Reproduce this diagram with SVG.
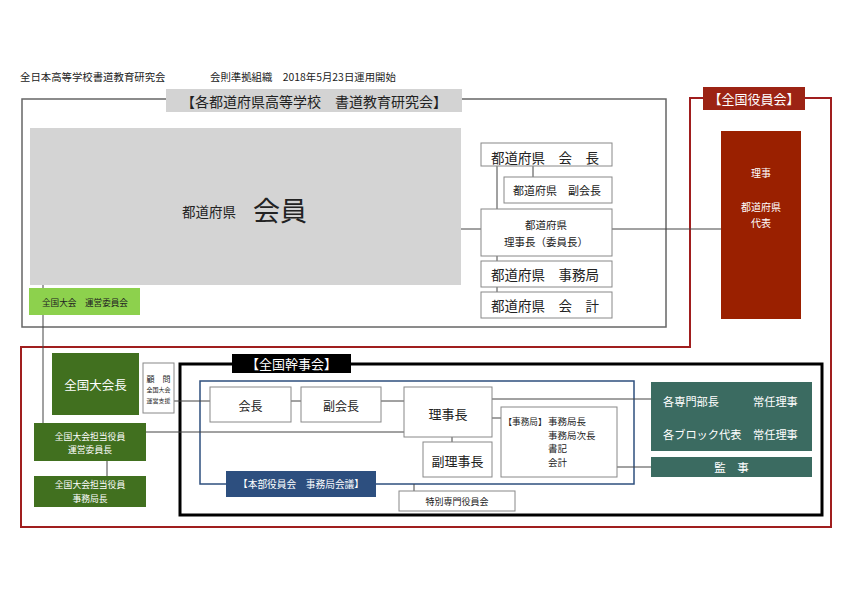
<svg xmlns="http://www.w3.org/2000/svg" width="842" height="595" viewBox="0 0 842 595">
<style>
text{font-family:"Noto Sans CJK JP","Noto Sans",sans-serif;fill:#222;dominant-baseline:central}
.c{text-anchor:middle}
.w{fill:#fff}
.box{fill:#fff;stroke:#888;stroke-width:1}
.ln{stroke:#444;stroke-width:1;fill:none}
.dg{fill:#41701f}
.tl{fill:#3b6b61}
</style>
<rect width="842" height="595" fill="#fff"/>
<g id="header">
<text x="20" y="76" font-size="10.4">全日本高等学校書道教育研究会</text>
<text x="210" y="76" font-size="10.4">会則準拠組織　2018年5月23日運用開始</text>
</g>
<g id="frames">
<rect x="22" y="99" width="644" height="228" fill="none" stroke="#666" stroke-width="1.5"/>
<path d="M690,98 H831 V527 H21 V347 H690 Z" fill="none" stroke="#a01e1e" stroke-width="2"/>
<rect x="180" y="364" width="642" height="151" fill="none" stroke="#000" stroke-width="3"/>
<rect x="200" y="381" width="434" height="103" fill="none" stroke="#2e4f7e" stroke-width="1.5"/>
</g>
<g id="connectors">
<line class="ln" x1="461" y1="229" x2="481" y2="229"/>
<line class="ln" x1="612" y1="229" x2="721" y2="229"/>
<line class="ln" x1="497" y1="166" x2="497" y2="209"/>
<line class="ln" x1="533" y1="166" x2="533" y2="177"/>
<line class="ln" x1="497" y1="256" x2="497" y2="261"/>
<line class="ln" x1="497" y1="287" x2="497" y2="292"/>
<line class="ln" x1="43" y1="285" x2="43" y2="423"/>
<line class="ln" x1="107" y1="461" x2="107" y2="476"/>
<line class="ln" x1="174" y1="401" x2="210" y2="401"/>
<line class="ln" x1="291" y1="401" x2="301" y2="401"/>
<line class="ln" x1="381" y1="401" x2="404" y2="401"/>
<line class="ln" x1="146" y1="432" x2="404" y2="432"/>
<line class="ln" x1="492" y1="399" x2="651" y2="399"/>
<line class="ln" x1="492" y1="418" x2="501" y2="418"/>
<line class="ln" x1="452" y1="437" x2="452" y2="442"/>
<line class="ln" x1="617" y1="467" x2="651" y2="467"/>
<line class="ln" x1="414" y1="484" x2="414" y2="491"/>
</g>
<g id="label-kaku">
<rect x="166" y="89" width="296" height="23" fill="#d3d3d3"/>
<text class="c" x="314" y="100.5" font-size="14">【各都道府県高等学校　書道教育研究会】</text>
</g>
<g id="kaiin">
<rect x="30" y="128" width="431" height="157" fill="#d4d4d4"/>
<text x="182" y="211" font-size="13.5">都道府県</text>
<text x="253" y="209" font-size="27">会員</text>
</g>
<g id="pref-kaicho">
<rect class="box" x="481" y="143" width="131" height="23"/>
<text x="491" y="157" font-size="13.5">都道府県　会　長</text>
</g>
<g id="pref-fukukaicho">
<rect class="box" x="504" y="177" width="108" height="26"/>
<text x="513" y="190" font-size="11">都道府県　副会長</text>
</g>
<g id="pref-rijicho">
<rect class="box" x="481" y="209" width="131" height="47"/>
<text class="c" x="546" y="224" font-size="10.5">都道府県</text>
<text class="c" x="546" y="241" font-size="10.5">理事長（委員長）</text>
</g>
<g id="pref-jimukyoku">
<rect class="box" x="481" y="261" width="131" height="26"/>
<text x="491" y="274" font-size="13.5">都道府県　事務局</text>
</g>
<g id="pref-kaikei">
<rect class="box" x="481" y="292" width="131" height="26"/>
<text x="491" y="305" font-size="13.5">都道府県　会　計</text>
</g>
<g id="label-zenkoku-yakuin">
<rect x="703" y="87" width="102" height="23" fill="#9c2314"/>
<text class="c w" x="754" y="98.5" font-size="13">【全国役員会】</text>
</g>
<g id="riji">
<rect x="721" y="131" width="80" height="188" fill="#9a2000"/>
<text class="c w" x="761" y="172" font-size="10">理事</text>
<text class="c w" x="761" y="206" font-size="10">都道府県</text>
<text class="c w" x="761" y="222" font-size="10">代表</text>
</g>
<g id="unei-iinkai">
<rect x="29" y="288" width="111" height="27" fill="#8dd14d"/>
<text class="c" x="85" y="302" font-size="8.6">全国大会　運営委員会</text>
</g>
<g id="taikaicho">
<rect class="dg" x="52" y="353" width="87" height="62"/>
<text class="c w" x="95.5" y="384" font-size="12.5">全国大会長</text>
</g>
<g id="komon">
<rect class="box" x="143" y="363" width="31" height="50"/>
<text class="c" x="158.5" y="378" font-size="8">顧　問</text>
<text class="c" x="158.5" y="389" font-size="6">全国大会</text>
<text class="c" x="158.5" y="400" font-size="6">運営支援</text>
</g>
<g id="tanto-unei">
<rect class="dg" x="34" y="423" width="112" height="38"/>
<text class="c w" x="90" y="436" font-size="8.8">全国大会担当役員</text>
<text class="c w" x="90" y="449" font-size="8.8">運営委員長</text>
</g>
<g id="tanto-jimu">
<rect class="dg" x="34" y="476" width="112" height="31"/>
<text class="c w" x="90" y="484" font-size="8.8">全国大会担当役員</text>
<text class="c w" x="90" y="498" font-size="8.8">事務局長</text>
</g>
<g id="label-kanjikai">
<rect x="232" y="354" width="119" height="19" fill="#000"/>
<text class="c w" x="291.5" y="363.5" font-size="13">【全国幹事会】</text>
</g>
<g id="kaicho">
<rect class="box" x="210" y="387" width="81" height="35"/>
<text class="c" x="250.5" y="405" font-size="12">会長</text>
</g>
<g id="fukukaicho">
<rect class="box" x="301" y="387" width="80" height="35"/>
<text class="c" x="341" y="405" font-size="12">副会長</text>
</g>
<g id="rijicho">
<rect class="box" x="404" y="387" width="88" height="50"/>
<text class="c" x="448" y="413" font-size="13">理事長</text>
</g>
<g id="fukurijicho">
<rect class="box" x="423" y="442" width="69" height="35"/>
<text class="c" x="457.5" y="460" font-size="13">副理事長</text>
</g>
<g id="jimukyoku">
<rect class="box" x="501" y="407" width="116" height="70"/>
<text x="503.5" y="421" font-size="8.6">【事務局】</text>
<text x="548" y="421" font-size="9.5">事務局長</text>
<text x="548" y="434.5" font-size="9.5">事務局次長</text>
<text x="548" y="448" font-size="9.5">書記</text>
<text x="548" y="462" font-size="9.5">会計</text>
</g>
<g id="honbu">
<rect x="226" y="471" width="150" height="26" fill="#2d4f7f"/>
<text class="c w" x="301" y="484" font-size="9.7">【本部役員会　事務局会議】</text>
</g>
<g id="tokubetsu">
<rect class="box" x="399" y="491" width="116" height="20"/>
<text class="c" x="457" y="501" font-size="9">特別専門役員会</text>
</g>
<g id="senmon">
<rect class="tl" x="651" y="382" width="161" height="69"/>
<text class="w" x="663" y="401" font-size="11.2">各専門部長</text>
<text class="w" x="753" y="401" font-size="11.2">常任理事</text>
<text class="w" x="663" y="434" font-size="11.2">各ブロック代表</text>
<text class="w" x="753" y="434" font-size="11.2">常任理事</text>
</g>
<g id="kanji">
<rect class="tl" x="651" y="457" width="161" height="20"/>
<text class="c w" x="731.5" y="467" font-size="11.5">監　事</text>
</g>
</svg>
